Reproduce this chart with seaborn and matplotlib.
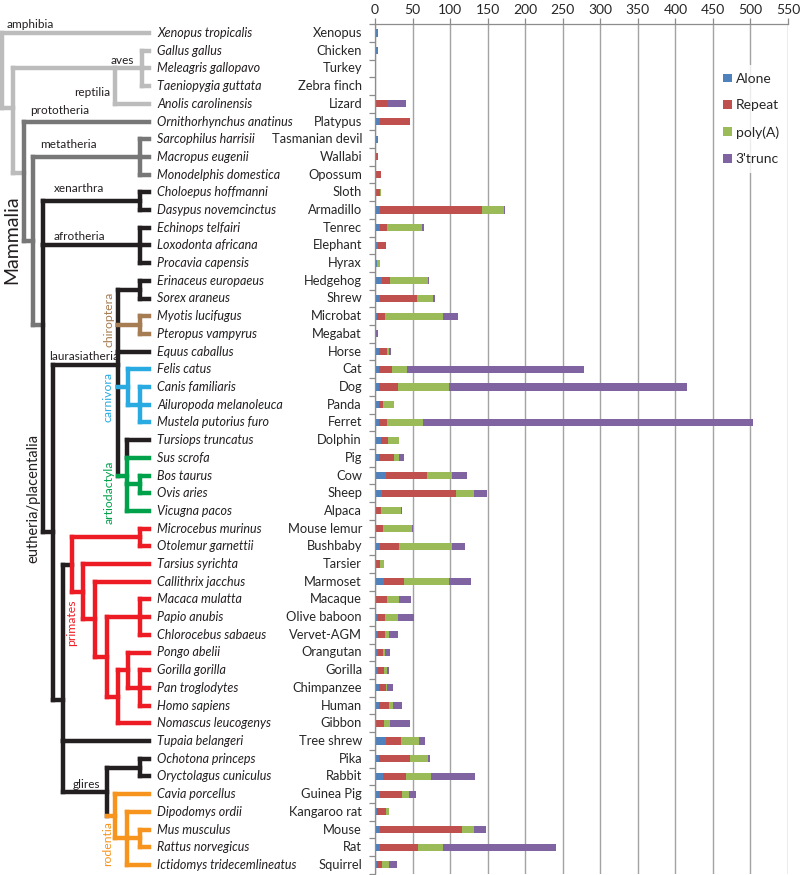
import numpy as np
import pandas as pd
import matplotlib
matplotlib.use("Agg")
import matplotlib.pyplot as plt
from matplotlib.patches import Patch
import seaborn as sns

sns.set_style("white")
plt.rcParams['font.family'] = ['Lato', 'DejaVu Sans']

# ---------------- data ----------------
species = ["Xenopus tropicalis", "Gallus gallus", "Meleagris gallopavo", "Taeniopygia guttata",
           "Anolis carolinensis", "Ornithorhynchus anatinus", "Sarcophilus harrisii", "Macropus eugenii",
           "Monodelphis domestica", "Choloepus hoffmanni", "Dasypus novemcinctus", "Echinops telfairi",
           "Loxodonta africana", "Procavia capensis", "Erinaceus europaeus", "Sorex araneus",
           "Myotis lucifugus", "Pteropus vampyrus", "Equus caballus", "Felis catus", "Canis familiaris",
           "Ailuropoda melanoleuca", "Mustela putorius furo", "Tursiops truncatus", "Sus scrofa",
           "Bos taurus", "Ovis aries", "Vicugna pacos", "Microcebus murinus", "Otolemur garnettii",
           "Tarsius syrichta", "Callithrix jacchus", "Macaca mulatta", "Papio anubis",
           "Chlorocebus sabaeus", "Pongo abelii", "Gorilla gorilla", "Pan troglodytes", "Homo sapiens",
           "Nomascus leucogenys", "Tupaia belangeri", "Ochotona princeps", "Oryctolagus cuniculus",
           "Cavia porcellus", "Dipodomys ordii", "Mus musculus", "Rattus norvegicus",
           "Ictidomys tridecemlineatus"]
common = ["Xenopus", "Chicken", "Turkey", "Zebra finch", "Lizard", "Platypus", "Tasmanian devil",
          "Wallabi", "Opossum", "Sloth", "Armadillo", "Tenrec", "Elephant", "Hyrax", "Hedgehog",
          "Shrew", "Microbat", "Megabat", "Horse", "Cat", "Dog", "Panda", "Ferret", "Dolphin", "Pig",
          "Cow", "Sheep", "Alpaca", "Mouse lemur", "Bushbaby", "Tarsier", "Marmoset", "Macaque",
          "Olive baboon", "Vervet-AGM", "Orangutan", "Gorilla", "Chimpanzee", "Human", "Gibbon",
          "Tree shrew", "Pika", "Rabbit", "Guinea Pig", "Kangaroo rat", "Mouse", "Rat", "Squirrel"]
alone = [4.4, 3.5, 0.5, 1.5, 0, 6.6, 4.4, 0.5, 1, 0.5, 6.6, 6.6, 4, 2, 9, 6.6, 2, 0.5, 5, 5, 5, 5,
         5, 7.5, 5, 15, 9, 1, 0.5, 7, 0, 12, 0.5, 4, 4, 4.4, 4.4, 5, 5, 1, 14, 5, 11, 7, 2, 7, 7, 3]
repeat = [0, 0, 0, 0, 16, 40, 0, 3.5, 7.5, 5.5, 136, 10, 10.6, 0, 11, 49, 11, 0, 11, 17, 26, 5, 11,
          10, 20, 54, 99, 7, 10, 25, 6.6, 27, 15, 9, 9, 6.6, 7.5, 9, 13, 10.6, 21, 41, 30, 29, 13,
          109, 50, 6]
polya = [0, 0, 0, 0, 0, 0, 0, 0, 0, 2, 29, 46.5, 0, 5, 50, 21, 77, 0, 2, 21, 68, 15, 48, 14, 6.6,
         34, 24, 27, 39, 71, 5, 60, 16, 17, 5, 2, 4, 2, 6, 8.4, 24, 24, 33, 9, 3.5, 15.5, 33, 10]
trunc3 = [0, 0, 0, 0, 25, 0, 0, 0, 0, 0, 2, 2, 0, 0, 2, 3, 21, 4, 3, 235.6, 316, 0, 440, 0, 7, 19,
          17, 1, 1, 17, 0, 29, 17, 22, 12, 7, 3, 8, 12, 26, 7, 3, 59, 9, 0, 16, 151, 10]
series_names = ["Alone", "Repeat", "poly(A)", "3'trunc"]
xticks = list(range(0, 551, 50))

# ---------------- tree structure ----------------
LG, MG, K = '#bcbcbc', '#777777', '#231f20'
BR, BL, GR, RD, OR = '#a67c52', '#29abe2', '#00a14b', '#ed1c24', '#f7941d'


def N(x, kids, color, stem=None, stem_color=None, seg=None):
    return dict(x=x, kids=kids, color=color, stem=stem, stem_color=stem_color, seg=seg)


aves = N(142, [1, 2, 3], LG)
sauropsida = N(115, [aves, 4], LG, stem=2.0)
metatheria = N(140, [6, 7, 8], MG)
xenarthra = N(140, [9, 10], K)
afrotheria = N(140, [11, 12, 13], K)
eulipo = N(140, [14, 15], K)
chiro = N(140, [16, 17], BR)
canif = N(140, [20, 21, 22], BL)
carniv = N(128, [19, canif], BL)
bovid = N(140, [25, 26], GR)
cetart = N(127, [(23, K), 24, bovid, 27], GR, seg=[K, GR, GR])
laur = N(118, [eulipo, chiro, 18, carniv, cetart], K, stem=18.76)
streps = N(140, [28, 29], RD)
cerco = N(140, [32, 33, 34], RD)
homininae = N(140, [36, 37, 38], RD)
hominid = N(128, [35, homininae], RD)
hominoid = N(118, [hominid, 39], RD)
catarr = N(107, [cerco, hominoid], RD)
anthro = N(95, [31, catarr], RD)
haplo = N(83, [30, anthro], RD)
primates = N(72, [streps, haplo], RD, stem_color=K)
lago = N(140, [41, 42], K)
murid = N(140, [45, 46], OR)
rod2 = N(127, [44, murid, 47], OR)
rodentia = N(115, [43, rod2], OR)
glires = N(107, [lago, rodentia], K)
euarch = N(63, [primates, 40, glires], K, stem=37.68)
boreo = N(53, [laur, euarch], K)
eutheria = N(43, [xenarthra, afrotheria, boreo], K, stem=16.5, stem_color=MG)
theria = N(33, [metatheria, eutheria], MG)
mammalia = N(24, [5, theria], MG, stem=7.9, stem_color=LG)
amniota = N(13, [sauropsida, mammalia], LG, stem=4.24)
root = N(2, [0, amniota], LG)

LEAF_X = 149
LW = 3.2


def attach(n):
    if isinstance(n, int):
        return n
    if isinstance(n, tuple):
        return n[0]
    if n['stem'] is not None:
        return n['stem']
    ys = [attach(c) for c in n['kids']]
    return (ys[0] + ys[-1]) / 2


def draw(ax, n, px=None, pcol=None):
    kw = dict(lw=LW, solid_capstyle='projecting')
    if isinstance(n, (int, tuple)):
        y = n if isinstance(n, int) else n[0]
        col = pcol if isinstance(n, int) else n[1]
        ax.plot([px, LEAF_X], [y, y], color=col, **kw)
        return
    x, col = n['x'], n['color']
    if px is not None:
        y0 = attach(n)
        ax.plot([px, x], [y0, y0], color=n['stem_color'] or col, **kw)
    ys = [attach(c) for c in n['kids']]
    seg = n['seg'] or [col] * (len(ys) - 1)
    for i in range(len(ys) - 1):
        ax.plot([x, x], [ys[i], ys[i + 1]], color=seg[i], **kw)
    for c in n['kids']:
        draw(ax, c, x, col)


# ---------------- figure ----------------
fig = plt.figure(figsize=(8, 8.75), dpi=100)
bottom = 1 - 873.75 / 875
height = (873.75 - 24.15) / 875
ax = fig.add_axes([375 / 800, bottom, (788 - 375) / 800, height])
axt = fig.add_axes([0, bottom, 375 / 800, height])

df = pd.DataFrame({"name": common, "Alone": alone, "Repeat": repeat,
                   "poly(A)": polya, "3'trunc": trunc3})
cum = df[series_names].cumsum(axis=1)
colors = ['#4f81bd', '#c0504d', '#9bbb59', '#8064a2']
for s, c in zip(series_names[::-1], colors[::-1]):
    sns.barplot(x=cum[s], y=df["name"], orient='h', color=c, width=0.4, saturation=1,
                linewidth=0, ax=ax, order=common)

n = len(common)
ax.set_xlim(0, 550)
ax.set_ylim(n - 0.5, -0.5)
ax.xaxis.tick_top()
ax.set_xticks(xticks)
ax.set_xticklabels([str(t) for t in xticks], fontsize=10, color='#262626')
ax.set_yticks(np.arange(-0.5, n, 1))
ax.set_yticklabels([])
ax.set_xlabel('')
ax.set_ylabel('')
ax.tick_params(axis='x', length=4, width=0.9, color='#8c8c8c', pad=2, top=True, bottom=False)
ax.tick_params(axis='y', length=4, width=0.9, color='#8c8c8c', left=True)
ax.grid(axis='x', color='#a3a3a3', lw=1.0)
ax.set_axisbelow(True)
for sp in ['right', 'bottom']:
    ax.spines[sp].set_visible(False)
for sp in ['left', 'top']:
    ax.spines[sp].set_color('#8c8c8c')
    ax.spines[sp].set_linewidth(0.9)

handles = [Patch(facecolor=c, edgecolor='none', label=s) for s, c in zip(series_names, colors)]
leg = ax.legend(handles=handles, loc='center', bbox_to_anchor=(751 / 800, 1 - 119 / 875),
                bbox_transform=fig.transFigure, frameon=True, fontsize=10,
                handlelength=0.6, handleheight=0.6, handletextpad=0.3, labelspacing=1.05,
                borderpad=0.6, fancybox=False)
leg.get_frame().set_facecolor('white')
leg.get_frame().set_edgecolor('none')
for t in leg.get_texts():
    t.set_color('#262626')

# tree axes
axt.set_xlim(0, 375)
axt.set_ylim(n - 0.5, -0.5)
axt.axis('off')
draw(axt, root)

for i, (sp, cm) in enumerate(zip(species, common)):
    axt.text(157, i, sp, ha='left', va='center', style='italic', fontsize=9.0, color='#231f20')
    axt.text(362, i, cm, ha='right', va='center', fontsize=9.3, color='#262626')


def py(y):
    return (y - 33) / 17.7


small = dict(fontsize=8.5, color='#231f20', va='center')
axt.text(7, py(24), 'amphibia', ha='left', **small)
axt.text(134, py(60), 'aves', ha='right', **small)
axt.text(110, py(93), 'reptilia', ha='right', **small)
axt.text(30, py(111), 'prototheria', ha='left', **small)
axt.text(40, py(145), 'metatheria', ha='left', **small)
axt.text(54, py(188), 'xenarthra', ha='left', **small)
axt.text(54, py(236), 'afrotheria', ha='left', **small)
axt.text(49, py(356), 'laurasiatheria', ha='left', **small)
axt.text(73, py(784), 'glires', ha='left', **small)

axt.text(12, py(240), 'Mammalia', rotation=90, ha='center', va='center', fontsize=14, color='#231f20')
axt.text(33, py(498), 'eutheria/placentalia', rotation=90, ha='center', va='center',
         fontsize=10.5, color='#231f20')
rot = dict(rotation=90, ha='center', va='center', fontsize=8.8)
axt.text(109, py(319), 'chiroptera', color=BR, **rot)
axt.text(108, py(397), 'carnivora', color=BL, **rot)
axt.text(109, py(492), 'artiodactyla', color=GR, **rot)
axt.text(72, py(623), 'primates', color=RD, **rot)
axt.text(108, py(844), 'rodentia', color=OR, **rot)

fig.savefig("out.png", dpi=100)
